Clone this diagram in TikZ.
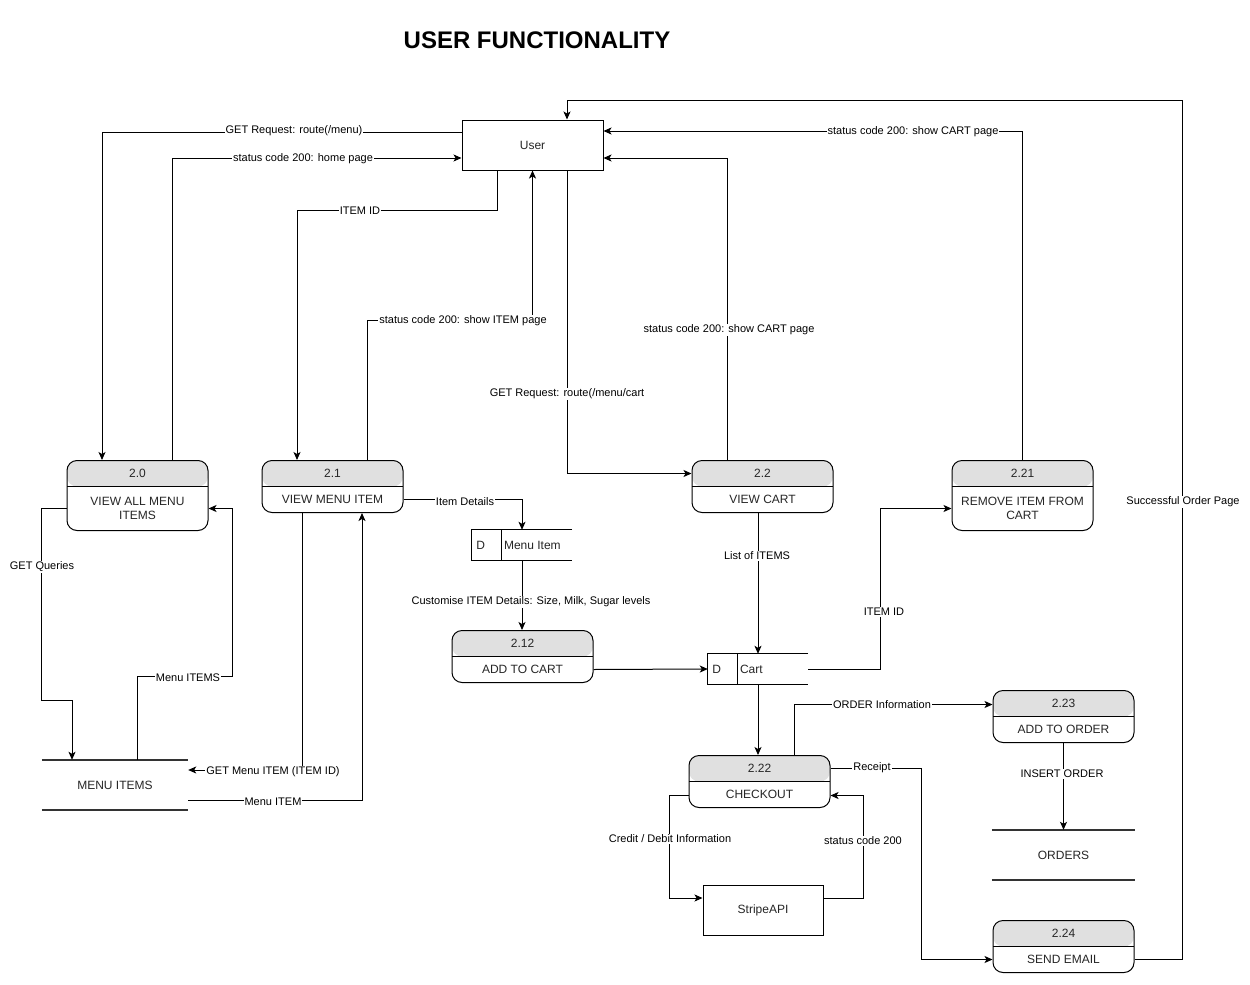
\documentclass[tikz,border=0pt]{standalone}
\usepackage{fontspec}
\setmainfont{Liberation Sans}
\usetikzlibrary{arrows.meta,calc}
\tikzset{
  flow/.style={draw=black, line width=1pt, -{Stealth[length=8pt,width=7pt,inset=2pt]}},
  lbl/.style={fill=white, inner sep=1pt, font=\fontsize{11}{13}\selectfont},
  ptxt/.style={inner sep=0pt, font=\fontsize{12}{14}\selectfont, text=black!85},
  hdr/.style={fill=black!12},
  proc/.style={draw=black, line width=1pt, rounded corners=10pt, minimum width=141pt, inner sep=0pt,
    path picture={
      \fill[hdr] ([yshift=-26pt]path picture bounding box.north west) rectangle (path picture bounding box.north east);
      \draw[line width=1pt] ([yshift=-26pt]path picture bounding box.north west) -- ([yshift=-26pt]path picture bounding box.north east);
    }},
  entity/.style={draw=black, line width=1pt, inner sep=0pt, font=\fontsize{12}{14}\selectfont, text=black!85},
  store/.style={inner sep=0pt, minimum width=100pt, minimum height=30pt},
  dbline/.style={draw=black!80, line width=2pt},
}
\newcommand\procbox[6]{%
  \node[proc, minimum height=#4pt, anchor=north] (#1) at (#2,#3) {};
  \node[ptxt] (#1n) at ([yshift=-13pt]#1.north) {#5};
  \node[ptxt, align=center] (#1t) at ($(#1.south)!0.5!([yshift=-26pt]#1.north)$) {#6};
}
\begin{document}
\begin{tikzpicture}[x=1pt,y=-1pt]
\useasboundingbox (0,0) rectangle (1250,985);
\fill[white] (0,0) rectangle (1250,985);

% title
\node[font=\fontsize{24}{28}\selectfont\bfseries] (title) at (537,40) {USER FUNCTIONALITY};

% entities
\node[entity, minimum width=141pt, minimum height=50pt] (user) at (532.5,145) {User};
\node[entity, minimum width=120pt, minimum height=50pt] (stripe) at (763,910) {StripeAPI};

% processes
\procbox{p20}{137.5}{460}{70}{2.0}{VIEW ALL MENU\\ITEMS}
\procbox{p21}{332.5}{460}{52}{2.1}{VIEW MENU ITEM}
\procbox{p22}{762.5}{460}{52}{2.2}{VIEW CART}
\procbox{p221}{1022.5}{460}{70}{2.21}{REMOVE ITEM FROM\\CART}
\procbox{p212}{522.5}{630}{52}{2.12}{ADD TO CART}
\procbox{p222}{759.5}{755}{52}{2.22}{CHECKOUT}
\procbox{p223}{1063.5}{690}{52}{2.23}{ADD TO ORDER}
\procbox{p224}{1063.5}{920}{52}{2.24}{SEND EMAIL}

% data stores (D type)
\node[store] (mi) at (522,545) {};
\draw[line width=1pt] (mi.north east) -- (mi.north west) -- (mi.south west) -- (mi.south east);
\draw[line width=1pt] ([xshift=30pt]mi.north west) -- ([xshift=30pt]mi.south west);
\node[ptxt] (mid) at ([xshift=9pt]mi.west) {D};
\node[ptxt, anchor=west] (mit) at ([xshift=32pt]mi.west) {Menu Item};

\node[store] (cart) at (758,669) {};
\draw[line width=1pt] (cart.north east) -- (cart.north west) -- (cart.south west) -- (cart.south east);
\draw[line width=1pt] ([xshift=30pt]cart.north west) -- ([xshift=30pt]cart.south west);
\node[ptxt] (cartd) at ([xshift=9pt]cart.west) {D};
\node[ptxt, anchor=west] (cartt) at ([xshift=32pt]cart.west) {Cart};

% open data stores
\node[ptxt, minimum width=146pt, minimum height=50pt] (mis) at (115,785) {MENU ITEMS};
\draw[dbline] (mis.north west) -- (mis.north east);
\draw[dbline] (mis.south west) -- (mis.south east);
\node[ptxt, minimum width=143pt, minimum height=50pt] (orders) at (1063.5,855) {ORDERS};
\draw[dbline] (orders.north west) -- (orders.north east);
\draw[dbline] (orders.south west) -- (orders.south east);

% connectors
\draw[flow] ([yshift=13pt]user.west) -| ([xshift=-35.5pt]p20.north);
\draw[flow] ([xshift=34.5pt]p20.north) |- ([yshift=-13pt]user.west);
\draw[flow] ([xshift=-35.5pt]user.south) -- ++(0,40) -| ([xshift=-35.5pt]p21.north);
\draw[flow] ([xshift=34.5pt]p21.north) -- ++(0,-140) -| (user.south);
\draw[flow] ([xshift=34.5pt]user.south) |- ([yshift=13pt]p22.west);
\draw[flow] ([xshift=-35.5pt]p22.north) |- ([yshift=-13pt]user.east);
\draw[flow] (p221.north) |- ([yshift=14pt]user.east);
\draw[flow] ([yshift=-13pt]p224.east) -- ++(48,0) -- ++(0,-859) -| ([xshift=34.5pt]user.north);
\draw[flow] ([yshift=-13pt]p20.west) -- ++(-25,0) -- ++(0,192) -| ([xshift=-43pt]mis.north);
\draw[flow] ([xshift=22pt]mis.north) -- ++(0,-83) -- ++(95,0) |- ([yshift=-13pt]p20.east);
\draw[flow] ([xshift=-30.5pt]p21.south) |- ([yshift=15pt]mis.east);
\draw[flow] ([yshift=-15pt]mis.east) -| ([xshift=29.5pt]p21.south);
\draw[flow] ([yshift=-13pt]p21.east) -| (mi.north);
\draw[flow] (mi.south) -- (mi.south |- p212.north);
\draw[flow] ([yshift=-13pt]p212.east) -- (cart.west);
\draw[flow] (p22.south -| cart.north) -- (cart.north);
\draw[flow] (cart.east) -- ++(72,0) |- ([yshift=-13pt]p221.west);
\draw[flow] (cart.south) -- (cart.south |- p222.north);
\draw[flow] ([xshift=34.5pt]p222.north) |- ([yshift=12pt]p223.west);
\draw[flow] ([yshift=13pt]p222.east) -- ++(91,0) |- ([yshift=-13pt]p224.west);
\draw[flow] (p223.south) -- (orders.north);
\draw[flow] ([yshift=-14pt]p222.west) -- ++(-19,0) |- ([yshift=12pt]stripe.west);
\draw[flow] ([yshift=12pt]stripe.east) -- ++(40,0) |- ([yshift=-14pt]p222.east);

% connector labels
\node[lbl] (l1) at (294,131) {GET Request: route(/menu)};
\node[lbl] (l2) at (303,159) {status code 200: home page};
\node[lbl] (l3) at (360,211) {ITEM ID};
\node[lbl] (l4) at (463,321) {status code 200: show ITEM page};
\node[lbl] (l5) at (567,394) {GET Request: route(/menu/cart};
\node[lbl] (l6) at (729,330) {status code 200: show CART page};
\node[lbl] (l7) at (913,132) {status code 200: show CART page};
\node[lbl] (l8) at (1183,502) {Successful Order Page};
\node[lbl] (l9) at (42,567) {GET Queries};
\node[lbl] (l10) at (188,678) {Menu ITEMS};
\node[lbl] (l11) at (273,772) {GET Menu ITEM (ITEM ID)};
\node[lbl] (l12) at (273,802) {Menu ITEM};
\node[lbl] (l13) at (465,502) {Item Details};
\node[lbl] (l14) at (531,602) {Customise ITEM Details: Size, Milk, Sugar levels};
\node[lbl] (l15) at (757,556) {List of ITEMS};
\node[lbl] (l16) at (884,612) {ITEM ID};
\node[lbl] (l17) at (882,705) {ORDER Information};
\node[lbl] (l18) at (872,768) {Receipt};
\node[lbl] (l19) at (1062,774) {INSERT ORDER};
\node[lbl] (l20) at (670,839) {Credit / Debit Information};
\node[lbl] (l21) at (863,841) {status code 200};
\end{tikzpicture}
\end{document}
